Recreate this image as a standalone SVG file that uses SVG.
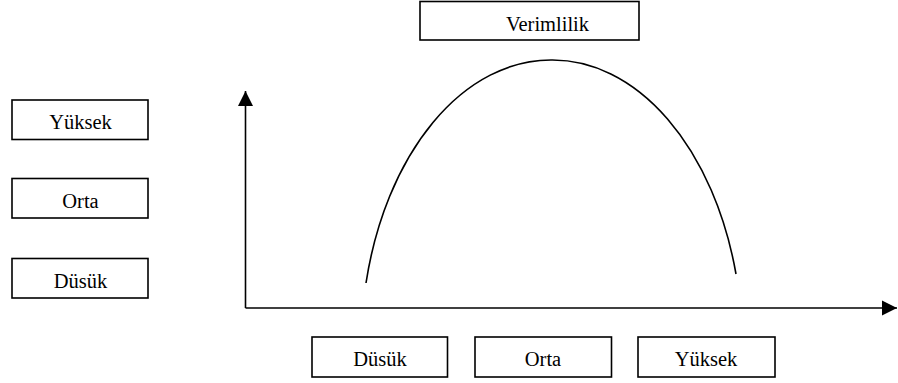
<svg xmlns="http://www.w3.org/2000/svg" width="898" height="383" viewBox="0 0 898 383">
<style>
.box{fill:#fff;stroke:#000;stroke-width:1.6}
.lbl{font-family:"Liberation Serif","Times New Roman",serif;font-size:20.5px;fill:#000;text-anchor:middle}
.ln{fill:none;stroke:#000;stroke-width:1.6}
</style>
<defs>
<marker id="ah" markerUnits="userSpaceOnUse" markerWidth="16" markerHeight="16" viewBox="0 0 16 16" refX="15" refY="8" orient="auto">
<path d="M0,0.5 L15,8 L0,15.5 Z" fill="#000"/>
</marker>
</defs>
<rect width="898" height="383" fill="#fff"/>
<g id="connectors">
<path class="ln" d="M245.5,308 L245.5,91" marker-end="url(#ah)"/>
<path class="ln" d="M245.5,308 L897,308" marker-end="url(#ah)"/>
<path id="curve" class="ln" d="M366,283 A190 289 0 0 1 551,60 A190 289 0 0 1 736,274"/>
</g>
<g id="verimlilik"><rect class="box" x="420" y="1.5" width="219" height="38.5"/><text class="lbl" x="547.5" y="30.5">Verimlilik</text></g>
<g id="y-yuksek"><rect class="box" x="12" y="100" width="136" height="39.5"/><text class="lbl" x="80.5" y="129">Yüksek</text></g>
<g id="y-orta"><rect class="box" x="12" y="178.5" width="136" height="39.5"/><text class="lbl" x="80.5" y="208">Orta</text></g>
<g id="y-dusuk"><rect class="box" x="12" y="258.5" width="136" height="39.5"/><text class="lbl" x="80.5" y="288">Düsük</text></g>
<g id="x-dusuk"><rect class="box" x="312" y="337" width="135.5" height="40"/><text class="lbl" x="380" y="366">Düsük</text></g>
<g id="x-orta"><rect class="box" x="475" y="337" width="136.5" height="40"/><text class="lbl" x="543" y="366">Orta</text></g>
<g id="x-yuksek"><rect class="box" x="638" y="337" width="137" height="40"/><text class="lbl" x="706" y="366">Yüksek</text></g>
</svg>
